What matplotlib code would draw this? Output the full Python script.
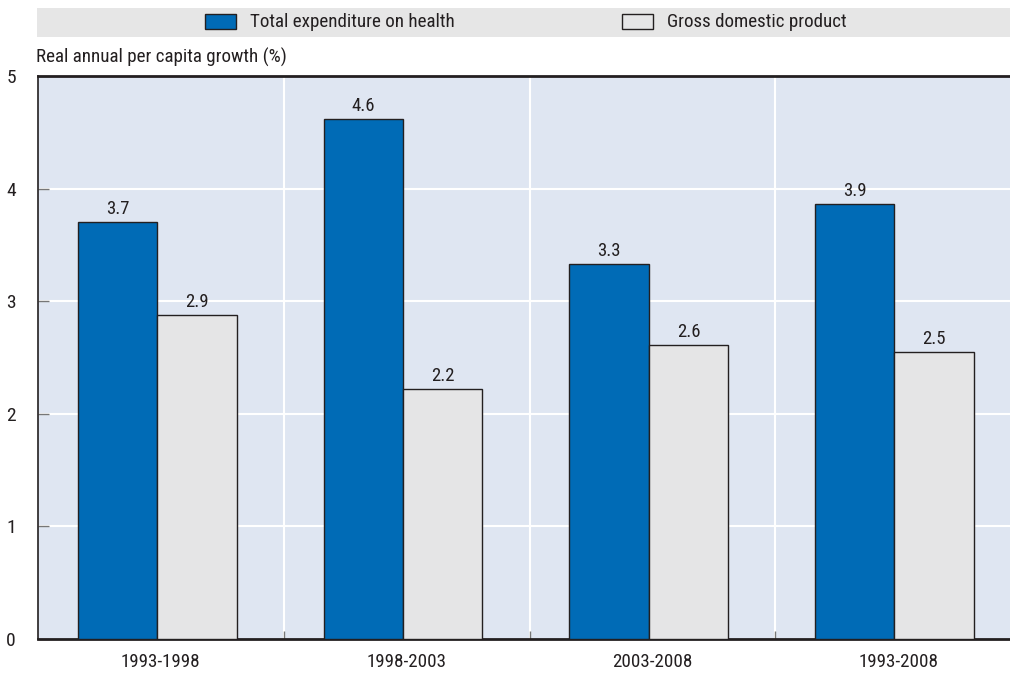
import matplotlib
matplotlib.use("Agg")
import matplotlib.pyplot as plt
from matplotlib.patches import Rectangle
import numpy as np

# Real annual per capita growth by period
periods = ["1993-1998", "1998-2003", "2003-2008", "1993-2008"]
health_exp = [3.70, 4.62, 3.33, 3.86]
gdp = [2.88, 2.22, 2.61, 2.55]
series_names = ["Total expenditure on health", "Gross domestic product"]

BLUE = "#006bb6"
GREY = "#e5e5e6"
PANEL = "#dfe6f2"
INK = "#231f20"
FS = 13.7

plt.rcParams["font.family"] = ["Roboto Condensed", "Liberation Sans Narrow", "DejaVu Sans"]

fig = plt.figure(figsize=(10.10, 6.73), dpi=100)
W, H = 1010, 673
ax = fig.add_axes([38 / W, 1 - 639 / H, (1021 - 38) / W, (639 - 76) / H])
ax.set_facecolor(PANEL)

x = np.arange(len(periods))
bw = 0.323
shift = -0.015
b1 = ax.bar(x + shift - bw / 2, health_exp, bw, color=BLUE, edgecolor=INK, linewidth=1, zorder=3)
b2 = ax.bar(x + shift + bw / 2, gdp, bw, color=GREY, edgecolor=INK, linewidth=1, zorder=3)

for bars in (b1, b2):
    for r in bars:
        v = r.get_height()
        ax.annotate(f"{v:.1f}", (r.get_x() + r.get_width() / 2, v),
                    xytext=(0, 3), textcoords="offset points",
                    ha="center", va="bottom", fontsize=13.5, color=INK)

ax.set_xlim(-0.5, len(periods) - 0.5)
ax.set_ylim(0, 5)

# white grid lines, horizontal at each unit and vertical between periods
for yv in range(1, 5):
    ax.axhline(yv, color="white", linewidth=1.5, zorder=1)
for xv in x[:-1] + 0.5:
    ax.axvline(xv, color="white", linewidth=1.5, zorder=1)

ax.set_xticks(x)
ax.set_xticklabels(periods, fontsize=FS, color=INK)
ax.tick_params(axis="x", which="major", length=0, pad=10)
ax.set_xticks(x[:-1] + 0.5, minor=True)
ax.tick_params(axis="x", which="minor", direction="in", length=6, color="#777777", width=1)

ax.set_yticks(range(0, 6))
ax.tick_params(axis="y", direction="in", length=8, color="#777777", width=1,
               labelsize=14, labelcolor=INK, pad=16)

for side in ("top", "bottom", "left"):
    ax.spines[side].set_color(INK)
ax.spines["top"].set_linewidth(2)
ax.spines["bottom"].set_linewidth(2)
ax.spines["left"].set_linewidth(1.2)
ax.spines["right"].set_visible(False)

fig.text(36 / W, 1 - 57 / H, "Real annual per capita growth (%)", ha="left", va="center",
         fontsize=FS, color=INK)

# legend strip across the top
fig.patches.append(Rectangle((37 / W, 1 - 37 / H), 1 - 37 / W, 29 / H,
                             transform=fig.transFigure, facecolor="#e6e6e6",
                             edgecolor="none", zorder=0))
for xs, xt, col, name in [(205, 250, BLUE, series_names[0]), (622, 667, GREY, series_names[1])]:
    fig.patches.append(Rectangle((xs / W, 1 - 29 / H), 31 / W, 15 / H,
                                 transform=fig.transFigure, facecolor=col,
                                 edgecolor=INK, linewidth=1, zorder=1))
    fig.text(xt / W, 1 - 22 / H, name, ha="left", va="center", fontsize=FS, color=INK)

fig.savefig("out.png", dpi=100)
